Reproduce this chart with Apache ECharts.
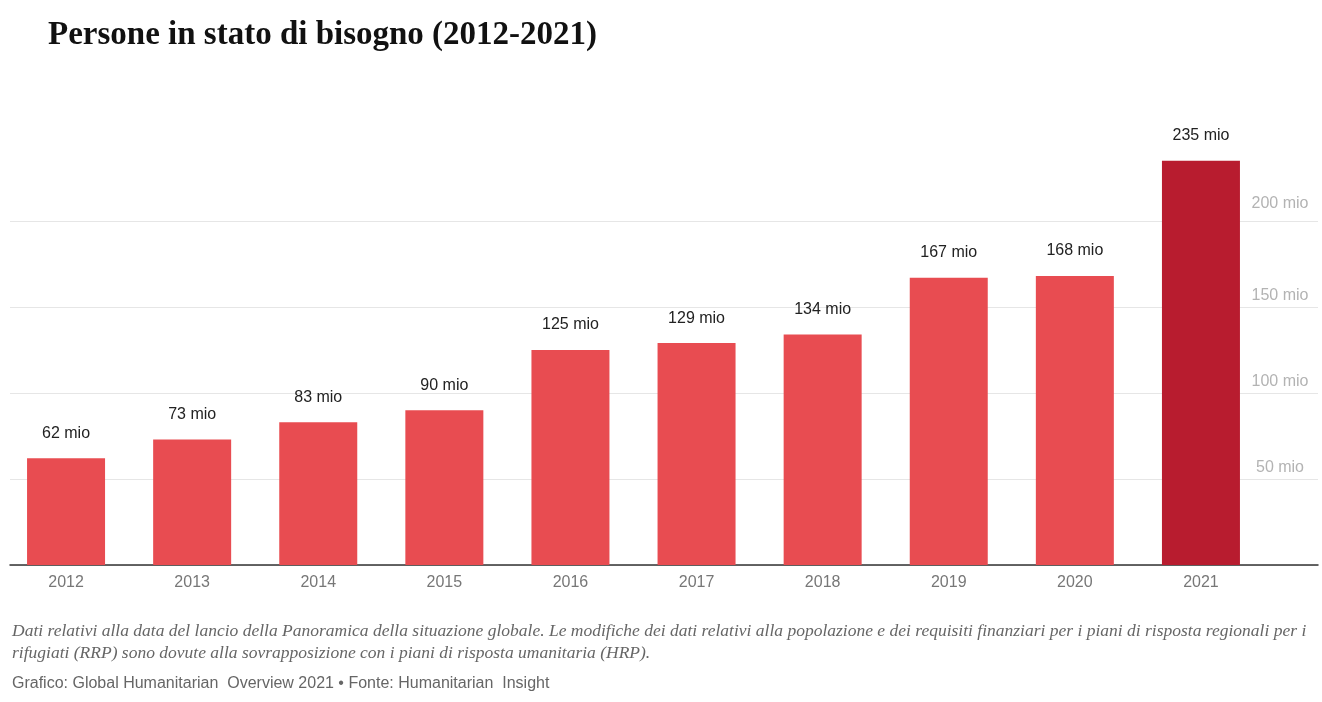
<!DOCTYPE html>
<html>
<head>
<meta charset="utf-8">
<script src="https://cdn.jsdelivr.net/npm/echarts@6/dist/echarts.min.js"></script>
<style>
  html, body { margin: 0; padding: 0; background: #fff; }
  #chart { width: 1322px; height: 702px; }
</style>
</head>
<body>
<div id="chart"></div>
<script>
const categories = ['2012', '2013', '2014', '2015', '2016', '2017', '2018', '2019', '2020', '2021'];
const values = [62, 73, 83, 90, 125, 129, 134, 167, 168, 235];
const yTicks = [50, 100, 150, 200];
const titleText = 'Persone in stato di bisogno (2012-2021)';
const noteLine1 = 'Dati relativi alla data del lancio della Panoramica della situazione globale. Le modifiche dei dati relativi alla popolazione e dei requisiti finanziari per i piani di risposta regionali per i';
const noteLine2 = 'rifugiati (RRP) sono dovute alla sovrapposizione con i piani di risposta umanitaria (HRP).';
const sourceText = 'Grafico: Global Humanitarian  Overview 2021 \u2022 Fonte: Humanitarian  Insight';

const chart = echarts.init(document.getElementById('chart'));
const lastIndex = values.length - 1;
const topTick = yTicks[yTicks.length - 1];

chart.setOption({
  animation: false,
  title: [
    { text: titleText, left: 43, top: 14,
      textStyle: { fontFamily: 'Liberation Serif', fontWeight: 'bold', fontSize: 33, color: '#111' } },
    { text: noteLine1, left: 7, top: 617,
      textStyle: { fontFamily: 'Liberation Serif', fontStyle: 'italic', fontWeight: 'normal', fontSize: 17.5, color: '#666' } },
    { text: noteLine2, left: 7, top: 639,
      textStyle: { fontFamily: 'Liberation Serif', fontStyle: 'italic', fontWeight: 'normal', fontSize: 17.5, color: '#666' } },
    { text: sourceText, left: 7, top: 671,
      textStyle: { fontFamily: 'Liberation Sans', fontWeight: 'normal', fontSize: 16, color: '#666' } }
  ],
  grid: [
    { left: 3, right: 58, top: 135, bottom: 137 },
    { left: 10, right: 4, top: 221, bottom: 137 }
  ],
  xAxis: [
    { type: 'category', gridIndex: 0, data: categories,
      axisLine: { show: false }, axisTick: { show: false },
      axisLabel: { color: '#777', fontSize: 16, margin: 10, fontFamily: 'Liberation Sans' } },
    { type: 'value', gridIndex: 1, min: 0, max: 1,
      axisLine: { show: true, lineStyle: { color: '#333', width: 1.5 } },
      axisTick: { show: false }, axisLabel: { show: false }, splitLine: { show: false } }
  ],
  yAxis: [
    { type: 'value', gridIndex: 0, min: 0, max: 250, show: false },
    { type: 'value', gridIndex: 1, min: 0, max: 200, interval: 50, position: 'right',
      axisLine: { show: false }, axisTick: { show: false },
      splitLine: { show: true, lineStyle: { color: '#e6e6e6', width: 1 } },
      axisLabel: {
        inside: true, margin: 38, align: 'center', verticalAlign: 'bottom',
        color: '#b3b3b3', fontSize: 16, fontFamily: 'Liberation Sans',
        rich: {
          hi: { color: '#b3b3b3', fontSize: 16, fontFamily: 'Liberation Sans', padding: [0, 0, 9, 0] },
          lo: { color: '#b3b3b3', fontSize: 16, fontFamily: 'Liberation Sans', padding: [0, 0, 3, 0] }
        },
        formatter: v => {
          if (!yTicks.includes(v)) return '';
          return (v === topTick ? '{hi|' : '{lo|') + v + ' mio}';
        }
      } }
  ],
  series: [
    { type: 'bar', xAxisIndex: 0, yAxisIndex: 0, data: values, barWidth: 78, z: 3,
      itemStyle: { color: p => (p.dataIndex === lastIndex ? '#b81c2f' : '#e84c51') },
      label: { show: true, position: 'top', distance: 17, color: '#222', fontSize: 16,
        fontFamily: 'Liberation Sans', formatter: p => p.value + ' mio' } }
  ]
});
</script>
</body>
</html>
